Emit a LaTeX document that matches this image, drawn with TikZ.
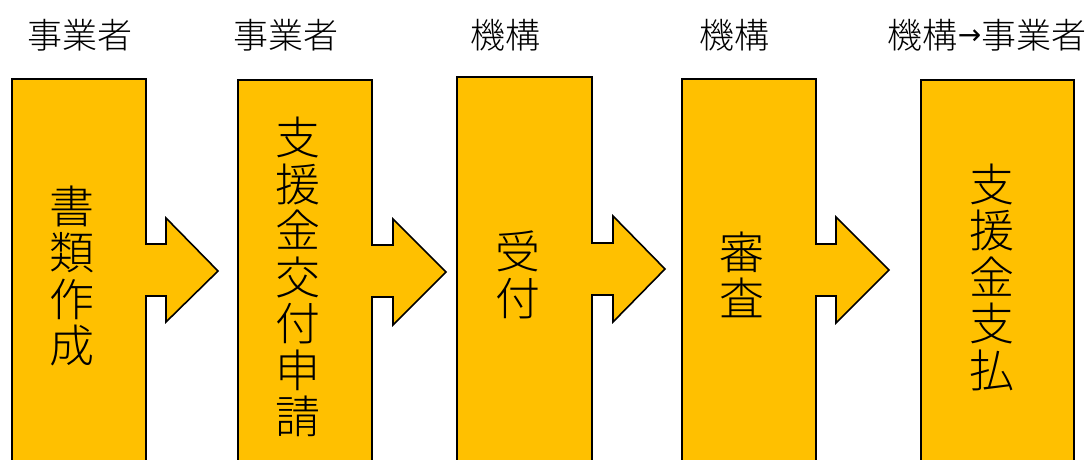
\documentclass[tikz,border=0pt]{standalone}
\usepackage{fontspec}
\setmainfont{Noto Sans CJK JP}[UprightFont=* Light]
\newfontfamily\arrowfont{DejaVu Sans}
\usetikzlibrary{positioning}

\definecolor{stepgold}{HTML}{FFC000}

\tikzset{
	stepbox/.style={draw=black, line width=1.6pt, fill=stepgold, line join=miter},
	actor/.style={inner sep=0pt, font=\fontsize{35}{35}\selectfont},
	steptext/.style={inner sep=0pt, align=center, font=\fontsize{45}{46.5}\selectfont}
}

\begin{document}
\begin{tikzpicture}[x=1pt, y=-1pt]
	\useasboundingbox (0,0) rectangle (1090,459);
	\clip (0,0) rectangle (1090,459);

	% boxes with arrow heads
	\draw[stepbox] (12,79) -- (146,79) -- (146,244) -- (166,244) -- (166,218) -- (218,271)
		-- (166,322) -- (166,296) -- (146,296) -- (146,480) -- (12,480) -- cycle;
	\draw[stepbox] (238,80) -- (372,80) -- (372,245) -- (393,245) -- (393,219) -- (446,272)
		-- (393,325) -- (393,297) -- (372,297) -- (372,480) -- (238,480) -- cycle;
	\draw[stepbox] (457,77) -- (592,77) -- (592,243) -- (613,243) -- (613,216) -- (665,269)
		-- (613,322) -- (613,295) -- (592,295) -- (592,480) -- (457,480) -- cycle;
	\draw[stepbox] (682,79) -- (816,79) -- (816,244) -- (836,244) -- (836,217) -- (889,270)
		-- (836,323) -- (836,296) -- (816,296) -- (816,480) -- (682,480) -- cycle;
	\draw[stepbox] (921,80) rectangle (1074,480);

	% texts in the boxes
	\node[steptext] (s1) at (72,276) {書\\類\\作\\成};
	\node[steptext] (s2) at (298,277) {支\\援\\金\\交\\付\\申\\請};
	\node[steptext] (s3) at (518,275) {受\\付};
	\node[steptext] (s4) at (742,275) {審\\査};
	\node[steptext] (s5) at (992,277) {支\\援\\金\\支\\払};

	% who does it
	\node[actor] (a1) at (80,35) {事業者};
	\node[actor] (a2) at (286,35) {事業者};
	\node[actor] (a3) at (505,35) {機構};
	\node[actor] (a4) at (734,35) {機構};
	\node[actor] (a5) at (987,35) {機構\raisebox{4pt}{\arrowfont\fontsize{28}{28}\selectfont →}事業者};
\end{tikzpicture}
\end{document}
